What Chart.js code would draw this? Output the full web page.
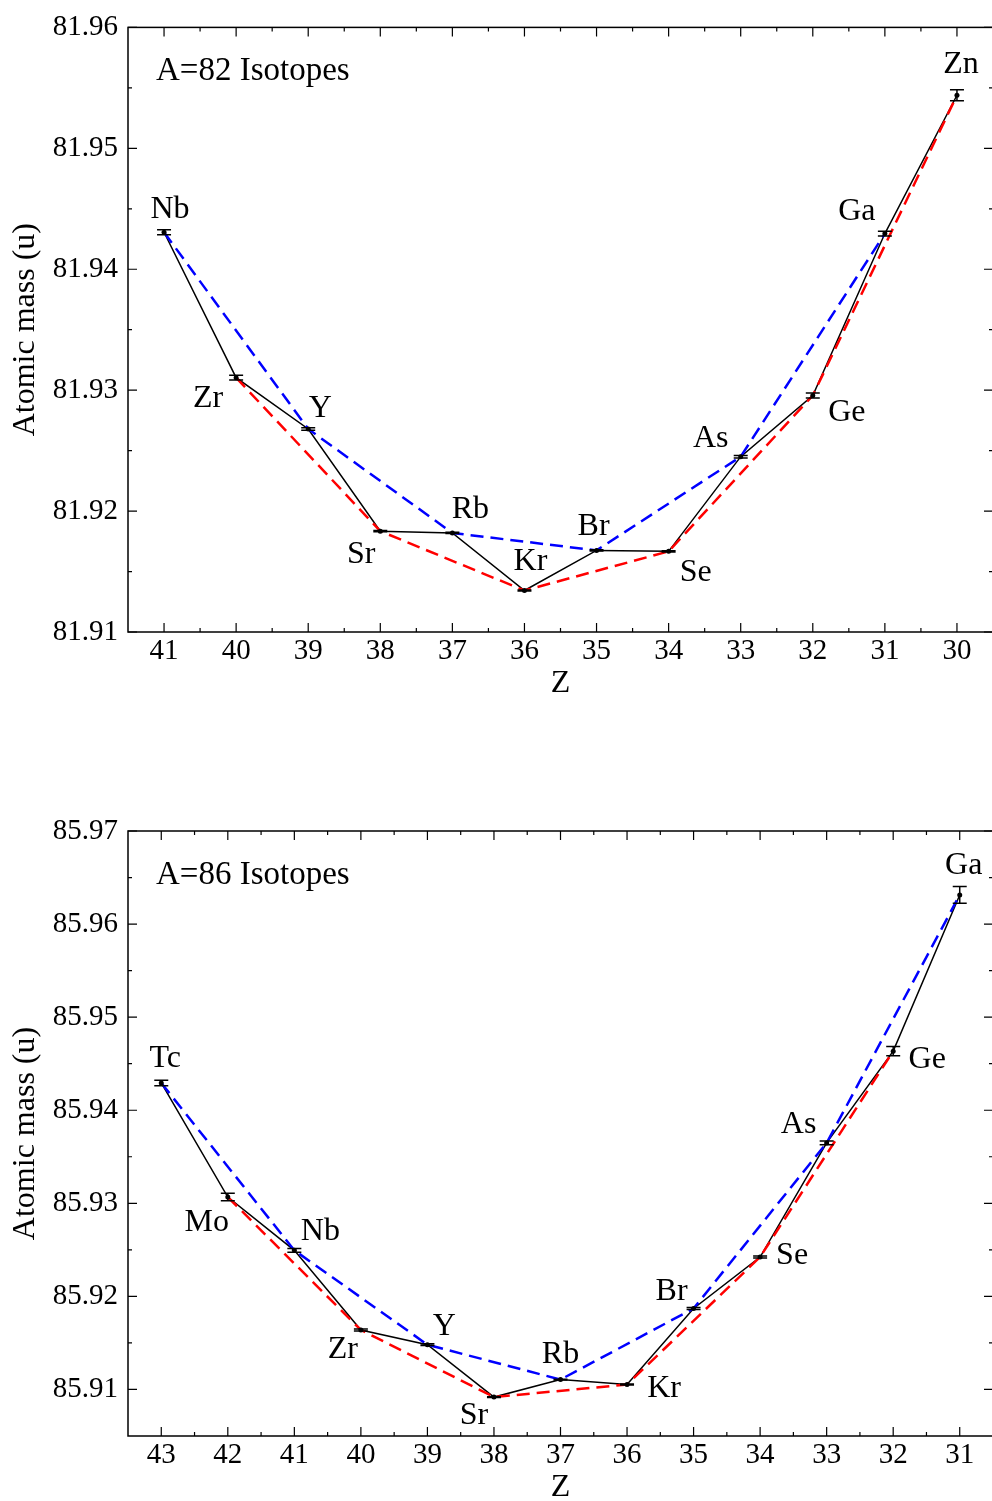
<!DOCTYPE html>
<html>
<head>
<meta charset="utf-8">
<script src="https://cdn.jsdelivr.net/npm/chart.js@4.4.1/dist/chart.umd.min.js"></script>
<style>
  body { margin: 0; background: #fff; overflow: hidden; }
  .panel { position: absolute; left: 0; width: 1000px; }
</style>
</head>
<body>
<div class="panel" style="top:0;height:700px"><canvas id="chartA82"></canvas></div>
<div class="panel" style="top:800px;height:701px"><canvas id="chartA86"></canvas></div>
<script>
// Atomic masses of isobars

// A=82
const zA82 = [41, 40, 39, 38, 37, 36, 35, 34, 33, 32, 31, 30]
const nameA82 = ['Nb', 'Zr', 'Y', 'Sr', 'Rb', 'Kr', 'Br', 'Se', 'As', 'Ge', 'Ga', 'Zn']
const massA82 = [81.94306, 81.93103, 81.92679, 81.91834, 81.91819, 81.91343,
                 81.91675, 81.91667, 81.92450, 81.92956, 81.94295, 81.95439]
const errA82 = [0.0002, 0.0002, 0.0001, 0.00005, 0.00005, 0.00004,
                0.00005, 0.00005, 0.0001, 0.0002, 0.0002, 0.00045]
const xTicksA82 = [41, 40, 39, 38, 37, 36, 35, 34, 33, 32, 31, 30]
const yTicksA82 = [81.91, 81.92, 81.93, 81.94, 81.95, 81.96]

// A=86
const zA86 = [43, 42, 41, 40, 39, 38, 37, 36, 35, 34, 33, 32, 31]
const nameA86 = ['Tc', 'Mo', 'Nb', 'Zr', 'Y', 'Sr', 'Rb', 'Kr', 'Br', 'Se', 'As', 'Ge', 'Ga']
const massA86 = [85.94293, 85.93067, 85.92495, 85.91639, 85.91481, 85.90918, 85.91106,
                 85.91053, 85.91870, 85.92423, 85.93649, 85.94635, 85.96313]
const errA86 = [0.0003, 0.0004, 0.0002, 0.0001, 0.0001, 0.00005, 0.00005,
                0.00005, 0.0001, 0.0001, 0.0002, 0.0005, 0.0009]
const xTicksA86 = [43, 42, 41, 40, 39, 38, 37, 36, 35, 34, 33, 32, 31]
const yTicksA86 = [85.91, 85.92, 85.93, 85.94, 85.95, 85.96, 85.97]

// label placement (pixel offsets from the point), kept apart from the data
const offA82 = [[6, -23], [-28, 21], [12, -20], [-19, 23], [18, -23], [6, -29],
                [-3, -24], [27, 21], [-30, -18], [34, 17], [-28, -22], [4, -31]]
const offA86 = [[4, -24], [-21, 26], [26, -19], [-18, 20], [17, -18], [-20, 18], [0, -25],
                [37, 4], [-22, -17], [32, -1], [-28, -18], [34, 8], [4, -29]]

const SERIF = '"Liberation Serif", "Times New Roman", serif'

function makeChart(id, o) {
    const pts = o.z.map((z, i) => ({x: z, y: o.mass[i]}))
    const odd = pts.filter(p => p.x % 2 === 1)
    const even = pts.filter(p => p.x % 2 === 0)

    // box, inward ticks, panel title, element labels, error bars
    const decor = {
        id: 'decor' + id,
        afterDatasetsDraw(chart) {
            const ctx = chart.ctx
            const xs = chart.scales.x, ys = chart.scales.y
            ctx.save()
            ctx.strokeStyle = '#000'
            ctx.lineWidth = 1.5
            // error bars
            o.z.forEach((z, i) => {
                const px = xs.getPixelForValue(z)
                const y1 = ys.getPixelForValue(o.mass[i] + o.err[i])
                const y2 = ys.getPixelForValue(o.mass[i] - o.err[i])
                ctx.beginPath()
                ctx.moveTo(px, y1); ctx.lineTo(px, y2)
                ctx.moveTo(px - 7, y1); ctx.lineTo(px + 7, y1)
                ctx.moveTo(px - 7, y2); ctx.lineTo(px + 7, y2)
                ctx.stroke()
            })
            // element names
            ctx.fillStyle = '#000'
            ctx.font = '32px ' + SERIF
            ctx.textAlign = 'center'
            ctx.textBaseline = 'middle'
            o.z.forEach((z, i) => {
                const px = xs.getPixelForValue(z)
                const py = ys.getPixelForValue(o.mass[i])
                ctx.fillText(o.names[i], px + o.off[i][0], py + o.off[i][1])
            })
            ctx.restore()
        },
        afterDraw(chart) {
            const ctx = chart.ctx
            const a = chart.chartArea
            const xs = chart.scales.x, ys = chart.scales.y
            ctx.save()
            ctx.strokeStyle = '#000'
            ctx.lineWidth = 1.5
            ctx.strokeRect(a.left, a.top, a.right - a.left, a.bottom - a.top)
            ctx.lineWidth = 1.2
            const tick = (vals, len) => {
                vals.forEach(v => {
                    const px = xs.getPixelForValue(v)
                    ctx.beginPath()
                    ctx.moveTo(px, a.bottom); ctx.lineTo(px, a.bottom - len)
                    ctx.moveTo(px, a.top); ctx.lineTo(px, a.top + len)
                    ctx.stroke()
                })
            }
            const tickY = (vals, len) => {
                vals.forEach(v => {
                    const py = ys.getPixelForValue(v)
                    ctx.beginPath()
                    ctx.moveTo(a.left, py); ctx.lineTo(a.left + len, py)
                    ctx.moveTo(a.right, py); ctx.lineTo(a.right - len, py)
                    ctx.stroke()
                })
            }
            const mids = arr => arr.slice(1).map((v, i) => (v + arr[i]) / 2)
            tick(o.xTicks, 9)
            tick(mids(o.xTicks), 4)
            tickY(o.yTicks, 9)
            tickY(mids(o.yTicks), 4)
            // panel title
            ctx.fillStyle = '#000'
            ctx.font = '33px ' + SERIF
            ctx.textAlign = 'left'
            ctx.textBaseline = 'middle'
            ctx.fillText(o.title, a.left + 28, a.top + 44)
            ctx.restore()
        }
    }

    return new Chart(document.getElementById(id), {
        type: 'scatter',
        data: {
            datasets: [
                {   // markers on top
                    data: pts, showLine: false, pointRadius: 2.5,
                    backgroundColor: '#000', borderWidth: 0, order: 0
                },
                {
                    data: odd, showLine: true, pointRadius: 0, borderColor: 'rgb(0,0,255)',
                    borderWidth: 2.5, borderDash: [13, 7], order: 1
                },
                {
                    data: even, showLine: true, pointRadius: 0, borderColor: 'rgb(255,0,0)',
                    borderWidth: 2.5, borderDash: [13, 7], order: 1
                },
                {
                    data: pts, showLine: true, pointRadius: 0, borderColor: '#000',
                    borderWidth: 1.5, order: 2
                }
            ]
        },
        options: {
            responsive: true,
            maintainAspectRatio: false,
            animation: false,
            // plot frame runs just past the right edge of the page, as in the original
            layout: { padding: { top: o.padTop, right: 7, left: 0, bottom: 0 } },
            plugins: { legend: { display: false }, tooltip: { enabled: false } },
            scales: {
                x: {
                    type: 'linear', reverse: true, min: o.xMin, max: o.xMax,
                    afterBuildTicks: s => { s.ticks = o.xTicks.map(v => ({value: v})) },
                    afterFit: s => { s.height = o.xAxisH },
                    grid: { display: false, drawTicks: false },
                    border: { display: false },
                    ticks: { color: '#000', padding: 2, maxRotation: 0, autoSkip: false,
                             font: { family: SERIF, size: 29 } },
                    title: { display: true, text: 'Z', color: '#000',
                             font: { family: SERIF, size: 32, lineHeight: 0.8 },
                             padding: { top: 0, bottom: o.zPad } }
                },
                y: {
                    min: o.yMin, max: o.yMax,
                    afterBuildTicks: s => { s.ticks = o.yTicks.map(v => ({value: v})) },
                    afterFit: s => { s.width = 128 },
                    grid: { display: false, drawTicks: false },
                    border: { display: false },
                    ticks: { color: '#000', padding: 10, autoSkip: false,
                             font: { family: SERIF, size: 29 },
                             callback: v => v.toFixed(2) },
                    title: { display: true, text: 'Atomic mass (u)', color: '#000',
                             font: { family: SERIF, size: 32 },
                             padding: { top: 6, bottom: 0 } }
                }
            }
        },
        plugins: [decor]
    })
}

makeChart('chartA82', {
    z: zA82, names: nameA82, mass: massA82, err: errA82, off: offA82,
    xTicks: xTicksA82, yTicks: yTicksA82, title: 'A=82 Isotopes',
    xMin: 29.5, xMax: 41.5, yMin: 81.91, yMax: 81.96,
    padTop: 26, xAxisH: 68, zPad: 4
})

makeChart('chartA86', {
    z: zA86, names: nameA86, mass: massA86, err: errA86, off: offA86,
    xTicks: xTicksA86, yTicks: yTicksA86, title: 'A=86 Isotopes',
    xMin: 30.5, xMax: 43.5, yMin: 85.905, yMax: 85.97,
    padTop: 31, xAxisH: 65, zPad: 1
})
</script>
</body>
</html>
